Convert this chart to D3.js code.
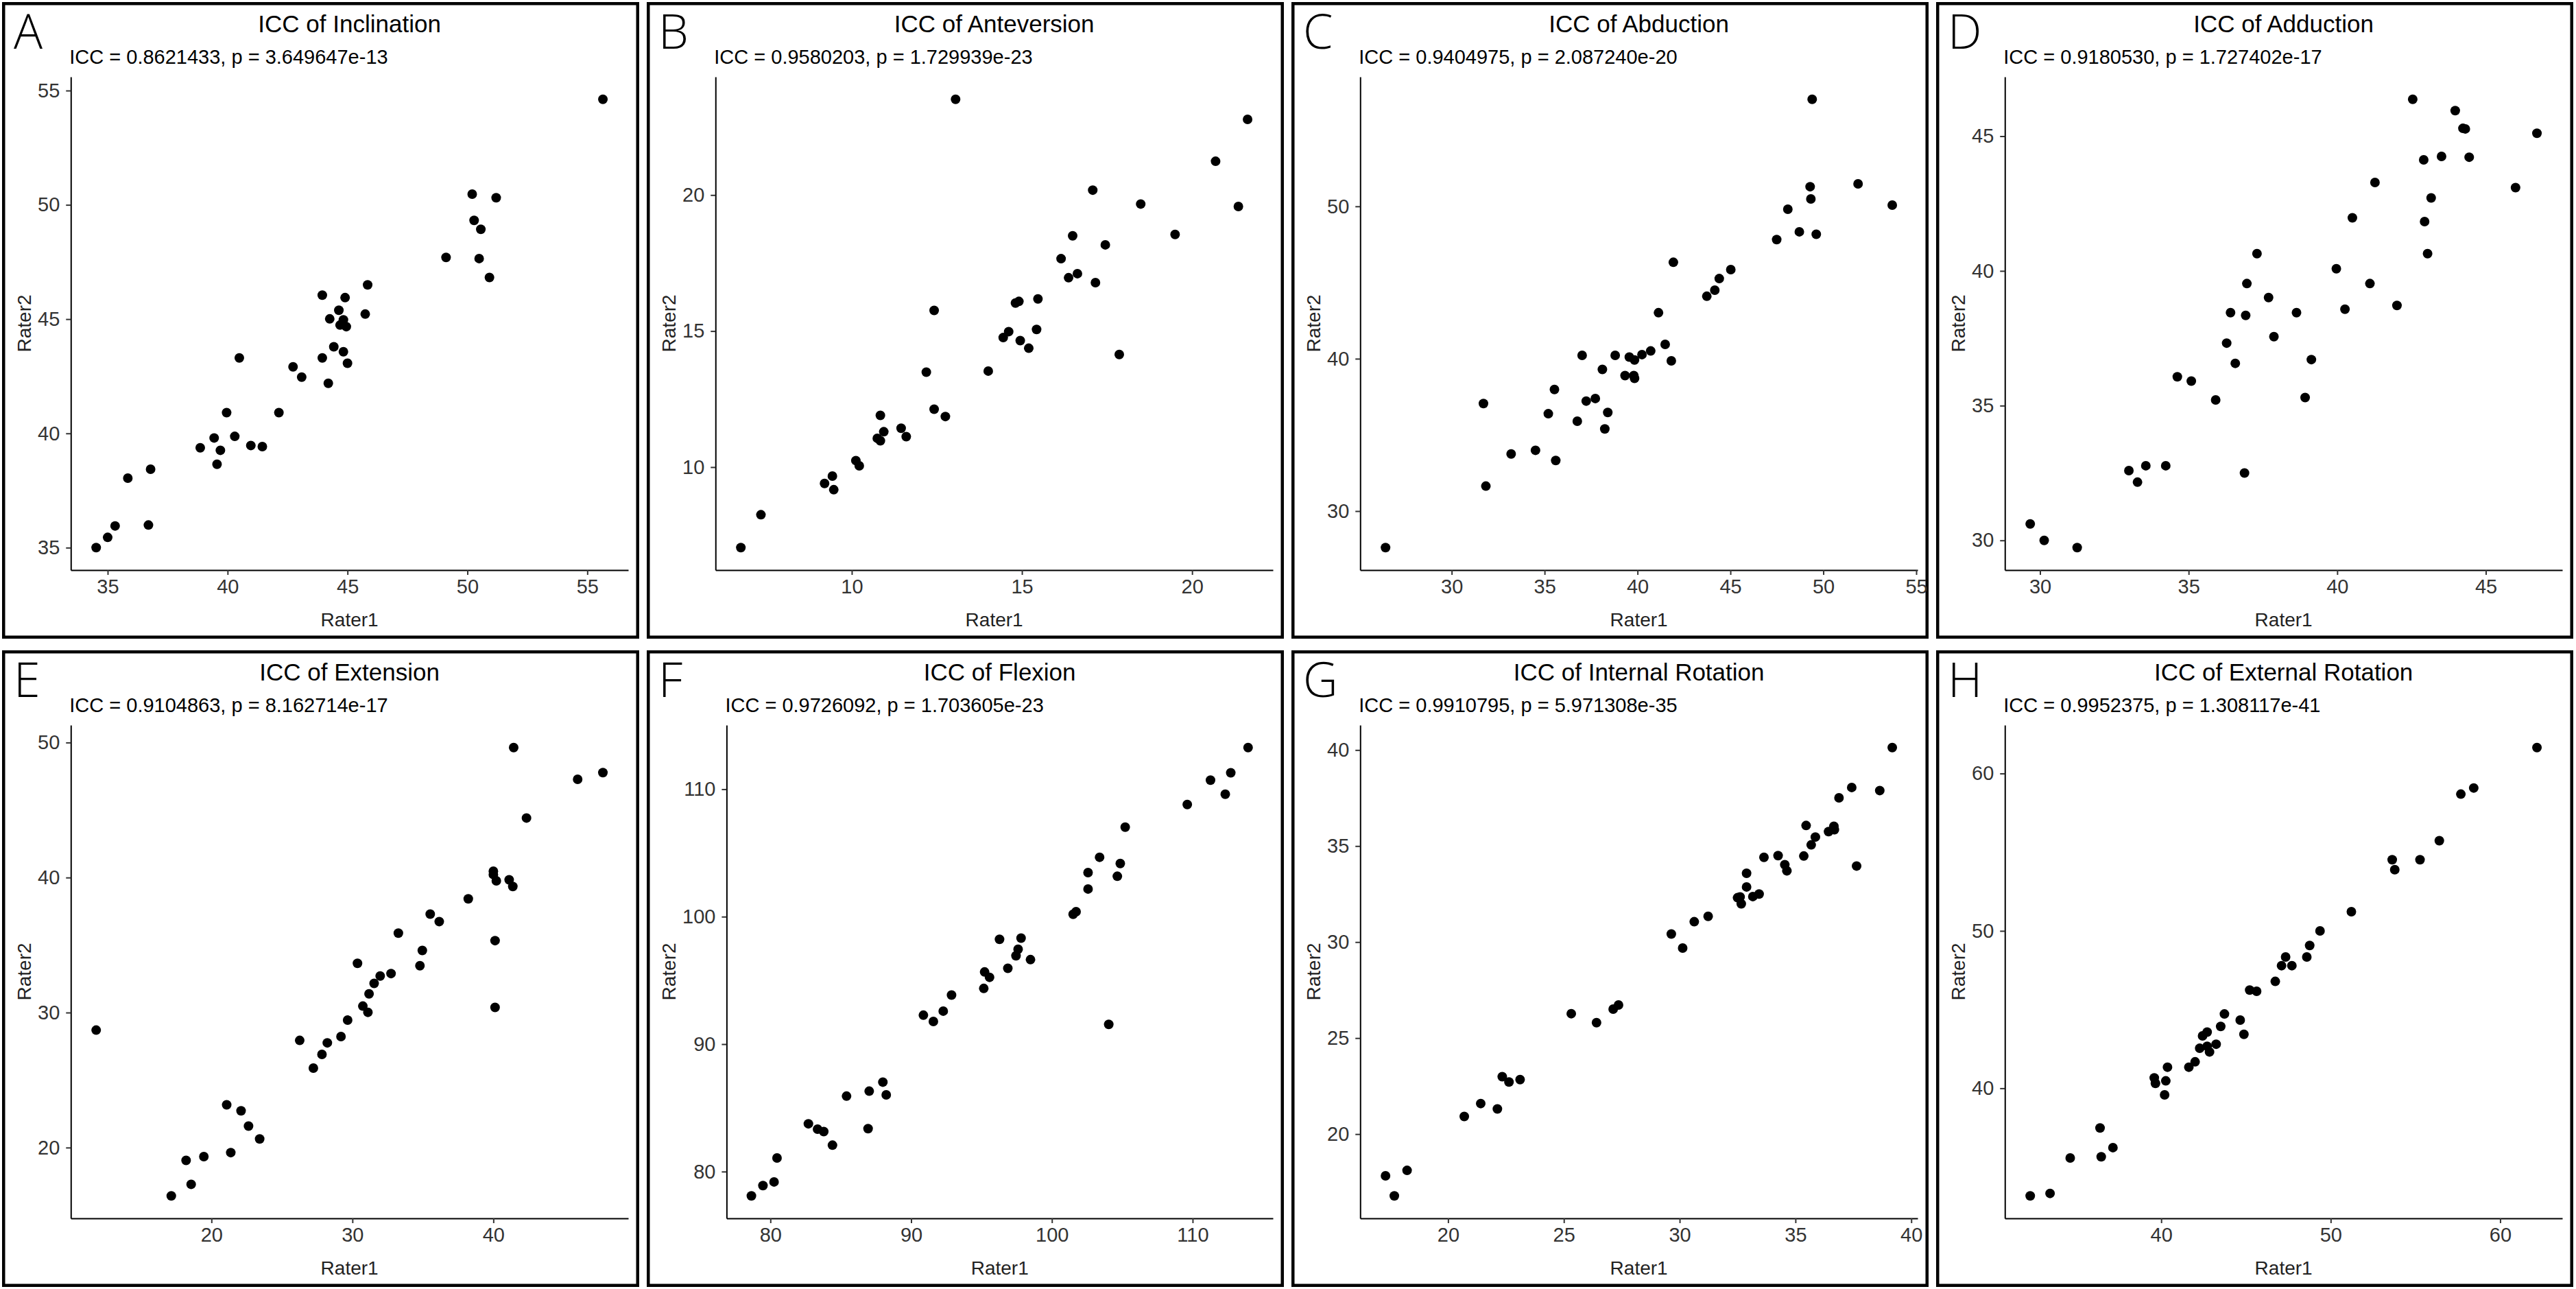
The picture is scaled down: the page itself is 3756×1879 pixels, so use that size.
<!DOCTYPE html>
<html>
<head>
<meta charset="utf-8">
<script src="https://cdn.jsdelivr.net/npm/d3@7"></script>
<style>
    body { margin: 0; background: #fff; }
    text { font-family: "Liberation Sans", Arial, sans-serif; }
</style>
</head>
<body>
<svg id="fig" width="3756" height="1879"></svg>
<script>
var panelLetters = ["A", "B", "C", "D", "E", "F", "G", "H"];
var panelTitles = ["ICC of Inclination", "ICC of Anteversion", "ICC of Abduction", "ICC of Adduction",
    "ICC of Extension", "ICC of Flexion", "ICC of Internal Rotation", "ICC of External Rotation"];
var iccTexts = ["ICC = 0.8621433, p = 3.649647e-13", "ICC = 0.9580203, p = 1.729939e-23",
    "ICC = 0.9404975, p = 2.087240e-20", "ICC = 0.9180530, p = 1.727402e-17",
    "ICC = 0.9104863, p = 8.162714e-17", "ICC = 0.9726092, p = 1.703605e-23",
    "ICC = 0.9910795, p = 5.971308e-35", "ICC = 0.9952375, p = 1.308117e-41"];

var inclinationR1 = [55.65, 50.2, 51.2, 50.28, 50.56, 49.11, 50.49, 50.92, 45.84, 43.95, 44.9, 44.64, 44.26, 45.74, 44.83, 44.69, 44.95, 44.43, 44.83, 43.95, 45.0, 42.73, 43.09, 44.2, 40.49, 39.96, 42.14, 39.44, 40.3, 38.86, 39.7, 40.97, 41.45, 39.56, 35.84, 36.79, 35.31, 36.7, 35.0, 34.52];
var inclinationR2 = [54.62, 50.47, 50.31, 49.32, 48.93, 47.7, 47.65, 46.82, 46.5, 46.05, 45.94, 45.39, 45.01, 45.22, 44.97, 44.74, 44.67, 43.79, 43.57, 43.3, 43.07, 42.91, 42.46, 42.19, 43.3, 40.91, 40.91, 39.8, 39.87, 39.37, 39.26, 39.47, 39.42, 38.65, 38.04, 38.43, 35.95, 35.99, 35.45, 35.0];

var anteversionR1 = [13.05, 21.63, 20.69, 17.08, 18.49, 21.36, 19.5, 16.49, 17.45, 16.15, 16.37, 16.63, 17.16, 15.47, 14.81, 14.91, 12.42, 14.61, 14.45, 14.95, 15.43, 15.2, 17.86, 12.19, 14.01, 12.42, 12.75, 10.84, 11.45, 10.94, 11.6, 10.75, 10.84, 10.12, 10.22, 9.43, 9.2, 9.47, 7.33, 6.74];
var anteversionR2 = [23.52, 22.78, 21.24, 20.18, 19.67, 19.58, 18.55, 18.5, 18.17, 17.66, 16.96, 17.11, 16.78, 16.18, 16.03, 16.09, 15.76, 14.98, 14.76, 14.65, 15.06, 14.37, 14.14, 13.49, 13.53, 12.13, 11.86, 11.9, 11.43, 11.3, 11.12, 11.06, 10.97, 10.24, 10.05, 9.67, 9.4, 9.17, 8.25, 7.04];

var abductionR1 = [49.4, 51.87, 49.29, 49.33, 53.71, 48.09, 48.71, 49.62, 47.49, 41.93, 45.02, 44.4, 44.16, 43.73, 41.13, 41.49, 40.71, 40.24, 39.56, 39.84, 38.8, 37.02, 41.82, 38.11, 39.33, 39.8, 39.84, 35.53, 37.73, 37.24, 31.71, 35.2, 38.4, 36.76, 38.24, 34.51, 33.2, 35.6, 31.84, 26.44];
var abductionR2 = [57.03, 51.48, 51.29, 50.49, 50.08, 49.81, 48.33, 48.17, 47.82, 46.33, 45.85, 45.26, 44.5, 44.1, 43.02, 40.94, 40.51, 40.27, 40.11, 39.92, 40.22, 40.22, 39.86, 39.3, 38.89, 38.89, 38.71, 37.98, 37.39, 37.22, 37.06, 36.39, 36.47, 35.9, 35.39, 33.99, 33.75, 33.32, 31.64, 27.6];

var adductionR1 = [42.54, 43.97, 44.23, 44.31, 46.72, 43.51, 44.44, 42.91, 41.27, 46.0, 43.16, 40.51, 42.94, 37.3, 43.04, 39.97, 36.96, 41.1, 37.69, 42.01, 40.26, 36.41, 36.92, 38.63, 37.87, 36.28, 36.57, 39.13, 34.62, 35.09, 35.91, 38.92, 32.99, 33.56, 34.23, 33.28, 36.88, 29.67, 30.14, 31.25];
var adductionR2 = [46.37, 45.95, 45.29, 45.27, 45.11, 44.25, 44.22, 44.12, 43.28, 43.09, 42.71, 41.97, 41.83, 40.64, 40.64, 40.08, 39.53, 39.53, 39.01, 38.72, 38.58, 38.45, 38.35, 38.45, 37.56, 37.32, 36.57, 36.71, 36.07, 35.91, 35.21, 35.3, 32.59, 32.77, 32.77, 32.16, 32.5, 30.61, 30.0, 29.73];

var extensionR1 = [41.44, 47.77, 45.98, 42.35, 40.0, 40.0, 40.21, 41.12, 41.38, 38.22, 35.52, 36.16, 33.26, 40.12, 34.96, 34.79, 30.36, 32.74, 31.97, 31.54, 31.18, 30.74, 31.1, 40.12, 29.66, 29.19, 11.82, 26.26, 28.22, 27.84, 27.23, 21.08, 22.1, 22.63, 23.42, 21.37, 19.46, 18.2, 18.56, 17.15];
var extensionR2 = [49.63, 47.77, 47.28, 44.41, 40.47, 40.22, 39.76, 39.83, 39.34, 38.42, 37.29, 36.74, 35.88, 35.33, 34.6, 33.47, 33.65, 32.89, 32.71, 32.16, 31.39, 30.48, 30.02, 30.38, 29.44, 28.22, 28.7, 27.94, 27.76, 26.9, 25.89, 23.17, 22.72, 21.59, 20.64, 19.63, 19.33, 19.05, 17.28, 16.42];

var flexionR1 = [113.94, 111.27, 112.71, 112.32, 109.62, 105.21, 103.39, 104.86, 104.65, 102.57, 102.57, 101.51, 101.72, 96.28, 97.81, 97.6, 97.45, 98.48, 96.87, 95.22, 95.57, 95.16, 92.87, 92.28, 90.87, 91.58, 104.04, 87.99, 87.02, 88.23, 85.41, 86.94, 82.7, 83.35, 83.79, 84.41, 80.47, 80.26, 79.47, 78.65];
var flexionR2 = [113.27, 110.71, 111.29, 109.61, 108.8, 107.02, 104.66, 104.17, 103.17, 103.46, 102.17, 100.19, 100.39, 98.22, 98.32, 97.44, 96.93, 96.63, 95.95, 95.66, 95.24, 94.37, 93.85, 92.59, 92.27, 91.78, 91.55, 87.02, 86.31, 86.02, 85.92, 83.37, 83.75, 83.33, 83.14, 82.07, 81.07, 79.19, 78.9, 78.09];

var intRotationR1 = [39.18, 37.43, 38.64, 36.88, 35.46, 36.66, 36.68, 36.43, 35.86, 35.68, 37.64, 35.36, 34.25, 33.64, 34.54, 34.63, 32.89, 32.89, 33.43, 33.16, 32.61, 32.5, 32.66, 31.23, 30.63, 29.64, 30.13, 25.32, 26.41, 27.13, 27.36, 22.34, 22.63, 23.11, 21.41, 22.13, 20.7, 18.23, 17.3, 17.68];
var intRotationR2 = [40.13, 38.05, 37.89, 37.51, 36.07, 36.03, 35.85, 35.75, 35.47, 35.06, 33.96, 34.48, 34.5, 34.41, 34.03, 33.71, 33.58, 32.87, 32.5, 32.37, 32.35, 32.31, 31.99, 31.34, 31.06, 30.42, 29.69, 26.27, 25.8, 26.51, 26.72, 22.99, 22.71, 22.84, 21.59, 21.31, 20.92, 18.11, 17.83, 16.78];

var extRotationR1 = [62.17, 58.44, 57.68, 56.41, 53.63, 55.27, 53.78, 51.22, 49.37, 48.76, 48.59, 47.34, 47.1, 47.71, 46.73, 45.22, 45.63, 43.73, 44.66, 43.51, 44.88, 42.44, 42.71, 43.24, 42.27, 42.71, 42.85, 42.0, 41.63, 40.37, 39.59, 39.66, 40.27, 40.2, 36.39, 36.46, 37.15, 34.63, 33.44, 32.27];
var extRotationR2 = [61.65, 59.08, 58.69, 55.73, 54.52, 54.52, 53.89, 51.22, 50.0, 49.07, 48.34, 48.34, 47.79, 47.79, 46.79, 46.24, 46.16, 44.72, 44.33, 43.93, 43.43, 43.33, 43.57, 42.8, 42.54, 42.67, 42.31, 41.68, 41.34, 41.34, 40.66, 40.31, 40.47, 39.58, 37.48, 35.65, 36.23, 35.57, 33.32, 33.16];

var rater1Sets = [inclinationR1, anteversionR1, abductionR1, adductionR1, extensionR1, flexionR1, intRotationR1, extRotationR1];
var rater2Sets = [inclinationR2, anteversionR2, abductionR2, adductionR2, extensionR2, flexionR2, intRotationR2, extRotationR2];

var xTickValues = [[35, 40, 45, 50, 55], [10, 15, 20], [30, 35, 40, 45, 50, 55], [30, 35, 40, 45],
    [10, 20, 30, 40], [80, 90, 100, 110], [20, 25, 30, 35, 40], [40, 50, 60]];
var yTickValues = [[35, 40, 45, 50, 55], [10, 15, 20], [30, 40, 50], [30, 35, 40, 45],
    [20, 30, 40, 50], [80, 90, 100, 110], [20, 25, 30, 35, 40], [40, 50, 60]];

var svg = d3.select("#fig");
svg.append("rect").attr("width", 3756).attr("height", 1879).attr("fill", "#fff");

var boxW = 929, boxH = 928;
var tickFont = 29, tickColor = "#333";

// ggplot style 5% padding around the data range
function padded(values) {
    var ext = d3.extent(values);
    var pad = (ext[1] - ext[0]) * 0.05;
    return [ext[0] - pad, ext[1] + pad];
}

function textWidth(str, size) {
    var t = svg.append("text").style("font-size", size + "px").text(str);
    var w = t.node().getComputedTextLength();
    t.remove();
    return w;
}

function drawPanel(i) {
    var col = i % 4, row = Math.floor(i / 4);
    var x0 = 3 + col * 940;
    var y0 = row === 0 ? 3 : 948;
    var xs = rater1Sets[i], ys = rater2Sets[i];

    var labelW = d3.max(yTickValues[i], function (d) { return textWidth(String(d), tickFont); });
    var left = x0 + 52 + labelW + 16,
        right = x0 + boxW - 16,
        top = y0 + 109,
        bottom = y0 + 828;

    var x = d3.scaleLinear().domain(padded(xs)).range([left, right]);
    var y = d3.scaleLinear().domain(padded(ys)).range([bottom, top]);

    var g = svg.append("g").attr("class", "panel");

    g.append("rect")
        .attr("x", x0 + 2.25).attr("y", y0 + 2.25)
        .attr("width", boxW - 4.5).attr("height", boxH - 4.5)
        .attr("fill", "none").attr("stroke", "#000").attr("stroke-width", 4.5);

    var xAxis = d3.axisBottom(x)
        .tickValues(xTickValues[i].filter(function (d) { return d >= x.domain()[0] && d <= x.domain()[1]; }))
        .tickSize(7).tickSizeOuter(0).tickPadding(6)
        .tickFormat(d3.format("d"));
    var yAxis = d3.axisLeft(y)
        .tickValues(yTickValues[i].filter(function (d) { return d >= y.domain()[0] && d <= y.domain()[1]; }))
        .tickSize(7).tickSizeOuter(0).tickPadding(9)
        .tickFormat(d3.format("d"));

    [[xAxis, "translate(0," + bottom + ")"], [yAxis, "translate(" + left + ",0)"]].forEach(function (a) {
        var ag = g.append("g").attr("transform", a[1]).call(a[0]);
        ag.select(".domain").attr("stroke", "#000").attr("stroke-width", 2);
        ag.selectAll(".tick line").attr("stroke", "#333").attr("stroke-width", 2);
        ag.selectAll(".tick text")
            .attr("fill", tickColor)
            .style("font-family", "'Liberation Sans', Arial, sans-serif")
            .style("font-size", tickFont + "px");
    });

    g.append("g")
        .selectAll("circle")
        .data(xs.map(function (d, k) { return [d, ys[k]]; }))
        .enter()
        .append("circle")
        .attr("cx", function (d) { return x(d[0]); })
        .attr("cy", function (d) { return y(d[1]); })
        .attr("r", 7)
        .attr("fill", "#000");

    g.append("text")
        .attr("x", x0 + 17).attr("y", y0 + 68)
        .style("font-family", "'Open Sans', sans-serif")
        .style("font-weight", 300)
        .style("font-size", "70px")
        .text(panelLetters[i]);

    g.append("text")
        .attr("x", (left + right) / 2).attr("y", y0 + 44)
        .attr("text-anchor", "middle")
        .style("font-size", "35px")
        .text(panelTitles[i]);

    g.append("text")
        .attr("x", left - 2).attr("y", y0 + 90)
        .style("font-size", "29px")
        .text(iccTexts[i]);

    g.append("text")
        .attr("x", (left + right) / 2).attr("y", y0 + 910)
        .attr("text-anchor", "middle")
        .attr("fill", "#222")
        .style("font-size", "28px")
        .text("Rater1");

    g.append("text")
        .attr("transform", "translate(" + (x0 + 42) + "," + ((top + bottom) / 2) + ") rotate(-90)")
        .attr("text-anchor", "middle")
        .attr("fill", "#222")
        .style("font-size", "28px")
        .text("Rater2");
}

for (var i = 0; i < 8; i++) {
    drawPanel(i);
}
</script>
</body>
</html>
